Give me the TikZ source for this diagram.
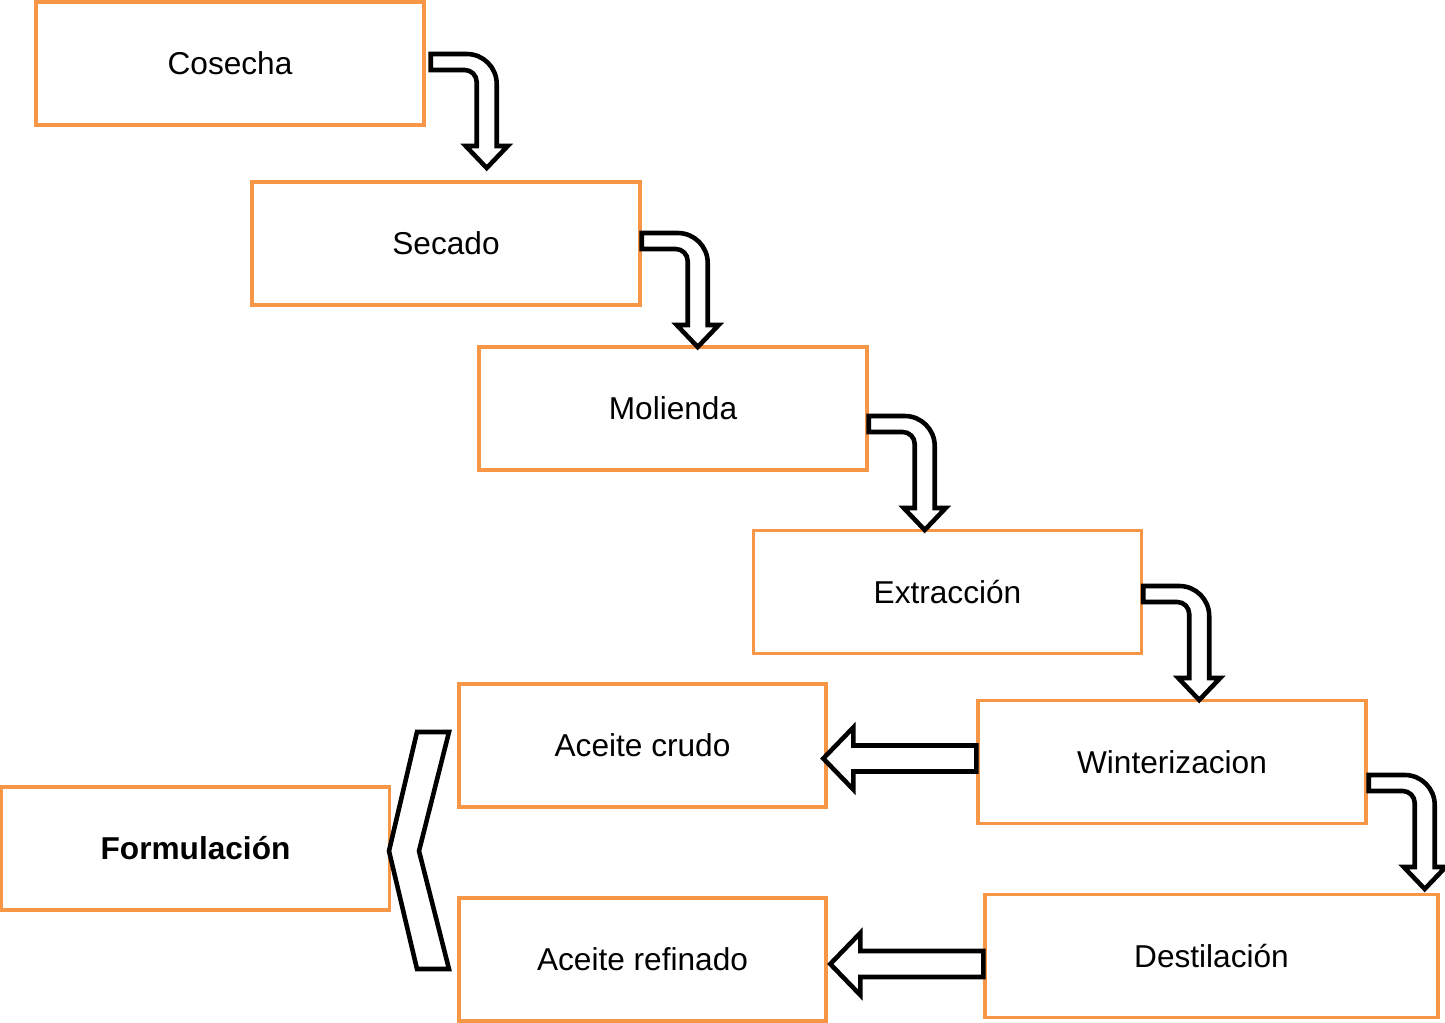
\documentclass[tikz,border=0pt]{standalone}
\usepackage{fontspec}
\setmainfont{Liberation Sans}
\usepackage{tikz}
\usepackage{xcolor}
\usetikzlibrary{calc}
\definecolor{boxorange}{RGB}{247, 150, 70}
\tikzset{
    stepbox/.style={draw=boxorange, line width=2pt, minimum width=7.76cm, minimum height=2.46cm, inner sep=0pt, font=\fontsize{18}{22}\selectfont},
    widebox/.style={stepbox, minimum width=9.06cm},
    oilbox/.style={stepbox, minimum width=7.34cm},
    blockarrow/.style={draw=black, line width=2.6pt, fill=white, line join=miter},
    pics/bendarrow/.style={code={
        \draw[blockarrow] (0,-8) -- (36,-8) arc[start angle=270, end angle=360, radius=30]
            -- (66,84) -- (77,84) -- (56,106) -- (35,84) -- (46,84) -- (46,20)
            arc[start angle=0, end angle=-90, radius=12] -- (0,8) -- cycle;
    }},
    pics/leftarrow/.style={code={
        \draw[blockarrow] (0,-13) -- (-123,-13) -- (-123,-31) -- (-153,0)
            -- (-123,31) -- (-123,13) -- (0,13) -- cycle;
    }}
}

\begin{document}
\begin{tikzpicture}[x=0.02cm, y=-0.02cm]
    \useasboundingbox (0,0) rectangle (1445,1023);
    % process steps
    \node[stepbox] (cosecha) at (230,63.5) {Cosecha};
    \node[stepbox] (secado) at (446,243.5) {Secado};
    \node[stepbox] (molienda) at (673,408.5) {Molienda};
    \node[stepbox] (extraccion) at (947.5,592) {Extracción};
    \node[stepbox] (winter) at (1172,762) {Winterizacion};
    \node[widebox] (destil) at (1211.5,956) {Destilación};
    \node[oilbox] (crudo) at (642.5,745.5) {Aceite crudo};
    \node[oilbox] (refinado) at (642.5,959.5) {Aceite refinado};
    \node[stepbox, font=\fontsize{18}{22}\selectfont\bfseries] (formul) at (195.5,848.5) {Formulación};
    % bent arrows
    \pic at ($(cosecha.east)+(5,-1.5)$) {bendarrow};
    \pic at ($(secado.east)+(0,-2.5)$) {bendarrow};
    \pic at ($(molienda.east)+(0,15.5)$) {bendarrow};
    \pic at ($(extraccion.east)+(0,2)$) {bendarrow};
    \pic at ($(winter.east)+(1,21)$) {bendarrow};
    % straight arrows
    \pic at ($(winter.west)+(0,-3.5)$) {leftarrow};
    \pic at ($(destil.west)+(0,8)$) {leftarrow};
    % chevron
    \draw[blockarrow] (417,732) -- (449,732) -- (419,851) -- (449,969)
        -- (417,969) -- (389,851) -- cycle;
\end{tikzpicture}
\end{document}
